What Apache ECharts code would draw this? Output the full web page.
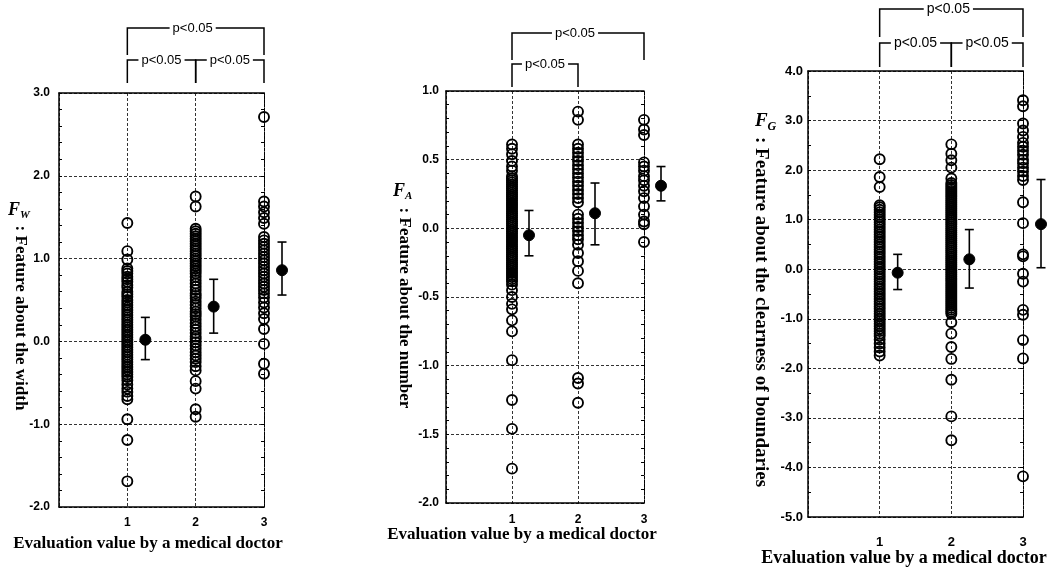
<!DOCTYPE html>
<html><head><meta charset="utf-8">
<script src="https://cdn.jsdelivr.net/npm/echarts@6/dist/echarts.min.js"></script>
<style>html,body{margin:0;padding:0;background:#fff}#c{width:1054px;height:574px}</style>
</head><body><div id="c"></div>
<script>
// ---------- DATA ----------
const categories = [1, 2, 3];
const pLabel = 'p<0.05';

// Panel 1: F_W feature about the width
const fwCat1 = [1.43, 1.09, 0.99, 0.88, 0.85, 0.82, 0.78, 0.75, 0.72, 0.68, 0.65, 0.60, 0.57, 0.54, 0.50, 0.47, 0.44, 0.41, 0.38, 0.35, 0.32, 0.29, 0.26, 0.23, 0.20, 0.17, 0.14, 0.11, 0.08, 0.05, 0.02, -0.01, -0.04, -0.07, -0.10, -0.13, -0.16, -0.19, -0.22, -0.25, -0.28, -0.31, -0.34, -0.37, -0.40, -0.43, -0.47, -0.52, -0.57, -0.61, -0.66, -0.70, -0.94, -1.19, -1.69];
const fwCat2 = [1.75, 1.63, 1.36, 1.33, 1.30, 1.27, 1.24, 1.21, 1.18, 1.15, 1.12, 1.09, 1.06, 1.03, 1.00, 0.97, 0.94, 0.91, 0.88, 0.85, 0.82, 0.78, 0.74, 0.70, 0.66, 0.62, 0.58, 0.55, 0.52, 0.48, 0.44, 0.40, 0.36, 0.33, 0.30, 0.26, 0.22, 0.18, 0.14, 0.10, 0.06, 0.03, -0.01, -0.05, -0.09, -0.13, -0.17, -0.21, -0.25, -0.30, -0.35, -0.48, -0.57, -0.82, -0.91];
const fwCat3 = [2.71, 1.69, 1.63, 1.56, 1.49, 1.42, 1.26, 1.22, 1.18, 1.14, 1.10, 1.06, 1.02, 0.98, 0.94, 0.90, 0.86, 0.82, 0.78, 0.74, 0.70, 0.66, 0.62, 0.58, 0.53, 0.47, 0.41, 0.34, 0.27, 0.15, -0.03, -0.27, -0.39];
// [category, mean, low, high]
const fwMeans = [[1, 0.02, -0.22, 0.29], [2, 0.42, 0.10, 0.75], [3, 0.86, 0.56, 1.20]];
const fwYTicks = ['3.0', '2.0', '1.0', '0.0', '-1.0', '-2.0'];

// Panel 2: F_A feature about the number
const faCat1 = [0.61, 0.58, 0.54, 0.49, 0.45, 0.42, 0.38, 0.365, 0.35, 0.335, 0.32, 0.305, 0.29, 0.275, 0.26, 0.245, 0.23, 0.215, 0.20, 0.185, 0.17, 0.155, 0.14, 0.125, 0.11, 0.095, 0.08, 0.065, 0.05, 0.035, 0.02, 0.005, -0.01, -0.025, -0.04, -0.055, -0.07, -0.085, -0.10, -0.115, -0.13, -0.145, -0.16, -0.175, -0.19, -0.205, -0.22, -0.235, -0.25, -0.265, -0.28, -0.295, -0.31, -0.325, -0.34, -0.355, -0.37, -0.385, -0.41, -0.45, -0.50, -0.55, -0.59, -0.67, -0.75, -0.96, -1.25, -1.46, -1.75];
const faCat2 = [0.85, 0.79, 0.61, 0.58, 0.55, 0.52, 0.49, 0.46, 0.43, 0.40, 0.37, 0.34, 0.31, 0.28, 0.25, 0.22, 0.19, 0.10, 0.07, 0.04, 0.01, -0.02, -0.05, -0.08, -0.12, -0.18, -0.24, -0.31, -0.40, -1.09, -1.13, -1.27];
const faCat3 = [0.79, 0.72, 0.68, 0.48, 0.45, 0.42, 0.38, 0.35, 0.31, 0.27, 0.22, 0.16, 0.10, 0.05, 0.03, -0.10];
const faMeans = [[1, -0.05, -0.20, 0.13], [2, 0.11, -0.12, 0.33], [3, 0.31, 0.20, 0.45]];
const faYTicks = ['1.0', '0.5', '0.0', '-0.5', '-1.0', '-1.5', '-2.0'];

// Panel 3: F_G feature about the clearness of boundaries
const fgCat1 = [2.22, 1.86, 1.66, 1.29, 1.25, 1.20, 1.15, 1.10, 1.05, 1.00, 0.95, 0.90, 0.85, 0.80, 0.75, 0.70, 0.65, 0.60, 0.55, 0.50, 0.45, 0.40, 0.35, 0.30, 0.25, 0.20, 0.15, 0.10, 0.05, 0.00, -0.05, -0.10, -0.15, -0.20, -0.25, -0.30, -0.35, -0.40, -0.45, -0.50, -0.55, -0.60, -0.65, -0.70, -0.75, -0.80, -0.85, -0.90, -0.95, -1.00, -1.05, -1.10, -1.15, -1.20, -1.25, -1.30, -1.35, -1.42, -1.50, -1.58, -1.66, -1.74];
const fgCat2 = [2.52, 2.33, 2.20, 2.05, 1.83, 1.74, 1.70, 1.66, 1.62, 1.58, 1.54, 1.50, 1.46, 1.42, 1.38, 1.34, 1.30, 1.26, 1.22, 1.18, 1.14, 1.10, 1.06, 1.02, 0.98, 0.94, 0.90, 0.86, 0.82, 0.78, 0.74, 0.70, 0.66, 0.62, 0.58, 0.54, 0.50, 0.46, 0.42, 0.38, 0.34, 0.30, 0.26, 0.22, 0.18, 0.14, 0.10, 0.06, 0.02, -0.02, -0.06, -0.10, -0.14, -0.18, -0.22, -0.26, -0.30, -0.34, -0.38, -0.42, -0.46, -0.50, -0.54, -0.58, -0.62, -0.66, -0.70, -0.74, -0.78, -0.82, -0.86, -0.90, -1.07, -1.30, -1.57, -1.81, -2.23, -2.97, -3.45];
const fgCat3 = [3.41, 3.29, 2.94, 2.80, 2.67, 2.55, 2.47, 2.39, 2.31, 2.21, 2.14, 2.05, 1.97, 1.88, 1.80, 1.35, 0.93, 0.30, 0.26, -0.09, -0.25, -0.82, -0.92, -1.43, -1.80, -4.18];
const fgMeans = [[1, -0.07, -0.41, 0.30], [2, 0.20, -0.38, 0.80], [3, 0.91, 0.03, 1.81]];
const fgYTicks = ['4.0', '3.0', '2.0', '1.0', '0.0', '-1.0', '-2.0', '-3.0', '-4.0', '-5.0'];

// significance brackets: [from category, to category, level (1 = upper, 0 = lower)]
const fwBrackets = [[1, 3, 1], [1, 2, 0], [2, 3, 0]];
const faBrackets = [[1, 3, 1], [1, 2, 0]];
const fgBrackets = [[1, 3, 1], [1, 2, 0], [2, 3, 0]];

const xTitle = 'Evaluation value by a medical doctor';

// ---------- LAYOUT ----------
const SANS = '"Liberation Sans", Arial, sans-serif';
const SERIF = '"Liberation Serif", "Times New Roman", serif';
const panels = [
  { grid: {left: 59, top: 93, width: 205, height: 414}, yMin: -2, yMax: 3, yInterval: 1, minor: 5,
    yLabelMargin: 9, xLabelMargin: 10, tickFont: 12,
    cats: [fwCat1, fwCat2, fwCat3], means: fwMeans, brackets: fwBrackets, ticks: fwYTicks,
    bpx: {upper: 65, upperLeg: 38, lower: 33, lowerLeg: 10}, meanOffset: 18 },
  { grid: {left: 446, top: 91, width: 198, height: 412}, yMin: -2, yMax: 1, yInterval: 0.5, minor: 5,
    yLabelMargin: 7, xLabelMargin: 11, tickFont: 12,
    cats: [faCat1, faCat2, faCat3], means: faMeans, brackets: faBrackets, ticks: faYTicks,
    bpx: {upper: 58, upperLeg: 31, lower: 27, lowerLeg: 4}, meanOffset: 17 },
  { grid: {left: 808, top: 71, width: 215, height: 446}, yMin: -5, yMax: 4, yInterval: 1, minor: 2,
    yLabelMargin: 5, xLabelMargin: 19, tickFont: 13,
    cats: [fgCat1, fgCat2, fgCat3], means: fgMeans, brackets: fgBrackets, ticks: fgYTicks,
    bpx: {upper: 62, upperLeg: 34, lower: 28, lowerLeg: 4}, meanOffset: 18 }
];

const dotted = {type: [3, 2], color: '#333', width: 1};
const grids = [], xAxes = [], yAxes = [], series = [];

panels.forEach((p, i) => {
  grids.push(Object.assign({containLabel: false}, p.grid));
  xAxes.push({
    gridIndex: i, type: 'value', min: 0, max: 3, interval: 1, position: 'bottom',
    axisLine: {onZero: false, lineStyle: {color: '#000', width: 1.5}},
    axisTick: {show: false},
    axisLabel: {margin: p.xLabelMargin, color: '#000', fontSize: p.tickFont, fontFamily: SANS, fontWeight: 'bold',
      formatter: v => categories.indexOf(v) >= 0 ? String(v) : ''},
    splitLine: {show: true, lineStyle: dotted}
  });
  xAxes.push({
    gridIndex: i, type: 'value', min: 0, max: 3, position: 'top',
    axisLine: {onZero: false, lineStyle: {color: '#000', width: 1.5}},
    axisTick: {show: false}, axisLabel: {show: false}, splitLine: {show: false}
  });
  yAxes.push({
    gridIndex: i, type: 'value', min: p.yMin, max: p.yMax, interval: p.yInterval, position: 'left',
    axisLine: {onZero: false, lineStyle: {color: '#000', width: 1.5}},
    axisTick: {show: true, inside: true, length: 3, lineStyle: {color: '#000'}},
    minorTick: {show: true, splitNumber: p.minor, length: 3, lineStyle: {color: '#000', width: 1}},
    axisLabel: {margin: p.yLabelMargin, color: '#000', fontSize: p.tickFont, fontFamily: SANS, fontWeight: 'bold',
      formatter: v => { const s = v.toFixed(1); return p.ticks.indexOf(s) >= 0 ? s : ''; }},
    splitLine: {show: true, lineStyle: dotted}
  });
  yAxes.push({
    gridIndex: i, type: 'value', min: p.yMin, max: p.yMax, interval: p.yInterval, position: 'right',
    axisLine: {onZero: false, lineStyle: {color: '#000', width: 1, type: [3, 1]}},
    axisTick: {show: true, inside: true, length: 3, lineStyle: {color: '#000'}},
    minorTick: {show: true, splitNumber: p.minor, length: 3, lineStyle: {color: '#000', width: 1}},
    axisLabel: {show: false}, splitLine: {show: false}
  });
  const xi = i * 2, yi = i * 2;
  p.cats.forEach((vals, ci) => {
    series.push({
      type: 'scatter', xAxisIndex: xi, yAxisIndex: yi, clip: false, silent: true,
      symbol: 'circle', symbolSize: 10,
      itemStyle: {color: 'rgba(0,0,0,0)', borderColor: '#000', borderWidth: 1.9, opacity: 1},
      emphasis: {disabled: true},
      data: vals.map(v => [categories[ci], v])
    });
  });
  series.push({
    type: 'custom', xAxisIndex: xi, yAxisIndex: yi, clip: false, silent: true,
    encode: {x: 0, y: [1, 2, 3]},
    data: p.means,
    renderItem: (params, api) => {
      const cx = api.coord([api.value(0), api.value(1)])[0] + p.meanOffset;
      const ym = api.coord([api.value(0), api.value(1)])[1];
      const yl = api.coord([api.value(0), api.value(2)])[1];
      const yh = api.coord([api.value(0), api.value(3)])[1];
      const cap = 4.5;
      const st = {stroke: '#000', lineWidth: 1.6, fill: null};
      return {type: 'group', children: [
        {type: 'line', shape: {x1: cx, y1: yl, x2: cx, y2: yh}, style: st},
        {type: 'line', shape: {x1: cx - cap, y1: yl, x2: cx + cap, y2: yl}, style: st},
        {type: 'line', shape: {x1: cx - cap, y1: yh, x2: cx + cap, y2: yh}, style: st},
        {type: 'circle', shape: {cx: cx, cy: ym, r: 5.5}, style: {fill: '#000', stroke: '#000', lineWidth: 1}}
      ]};
    }
  });
  series.push({
    type: 'custom', xAxisIndex: xi, yAxisIndex: yi, clip: false, silent: true,
    encode: {x: [0, 1]},
    data: p.brackets,
    renderItem: (params, api) => {
      const a = api.coord([api.value(0), p.yMax]);
      const b = api.coord([api.value(1), p.yMax]);
      const up = api.value(2) === 1;
      const top = a[1];
      const barY = top - (up ? p.bpx.upper : p.bpx.lower);
      const legY = top - (up ? p.bpx.upperLeg : p.bpx.lowerLeg);
      const fs = p.tickFont + 1;
      return {type: 'group', children: [
        {type: 'polyline', shape: {points: [[a[0], legY], [a[0], barY], [b[0], barY], [b[0], legY]]},
          style: {stroke: '#000', lineWidth: 1.5, fill: null}},
        {type: 'text', x: (a[0] + b[0]) / 2 - (up ? 3 : 0), y: barY,
          style: {text: pLabel, font: fs + 'px ' + SANS, fill: '#000',
            align: 'center', verticalAlign: 'middle', textAlign: 'center', textVerticalAlign: 'middle',
            backgroundColor: '#fff', padding: [1, 3]}}
      ]};
    }
  });
});

function fLabel(x, y, main, sub, size) {
  return [
    {type: 'text', x: x, y: y, style: {text: main, font: 'italic bold ' + size + 'px ' + SERIF, fill: '#000',
      textAlign: 'left', textVerticalAlign: 'middle', align: 'left', verticalAlign: 'middle'}},
    {type: 'text', x: x + size * 0.66, y: y + size * 0.3, style: {text: sub, font: 'italic bold ' + Math.round(size * 0.62) + 'px ' + SERIF, fill: '#000',
      textAlign: 'left', textVerticalAlign: 'middle', align: 'left', verticalAlign: 'middle'}}
  ];
}
function vText(x, y, text, size) {
  return {type: 'text', x: x, y: y, rotation: -Math.PI / 2,
    style: {text: text, font: 'bold ' + size + 'px ' + SERIF, fill: '#000',
      textAlign: 'center', textVerticalAlign: 'middle', align: 'center', verticalAlign: 'middle'}};
}
function hText(x, y, text, size) {
  return {type: 'text', x: x, y: y,
    style: {text: text, font: 'bold ' + size + 'px ' + SERIF, fill: '#000',
      textAlign: 'center', textVerticalAlign: 'middle', align: 'center', verticalAlign: 'middle'}};
}
const graphics = [].concat(
  fLabel(8, 210, 'F', 'W', 18), [vText(20, 318, ': Feature about the width', 17)], [hText(148, 544, xTitle, 17)],
  fLabel(393, 191, 'F', 'A', 18), [vText(404, 308, ': Feature about the number', 17)], [hText(522, 535, xTitle, 17)],
  fLabel(755, 121, 'F', 'G', 19), [vText(761, 312, ': Feature about the clearness of boundaries', 19)], [hText(904, 558, xTitle, 18)]
);

const chart = echarts.init(document.getElementById('c'), null, {renderer: 'canvas'});
chart.setOption({
  animation: false,
  backgroundColor: '#fff',
  grid: grids, xAxis: xAxes, yAxis: yAxes, series: series,
  graphic: graphics
});
</script></body></html>
